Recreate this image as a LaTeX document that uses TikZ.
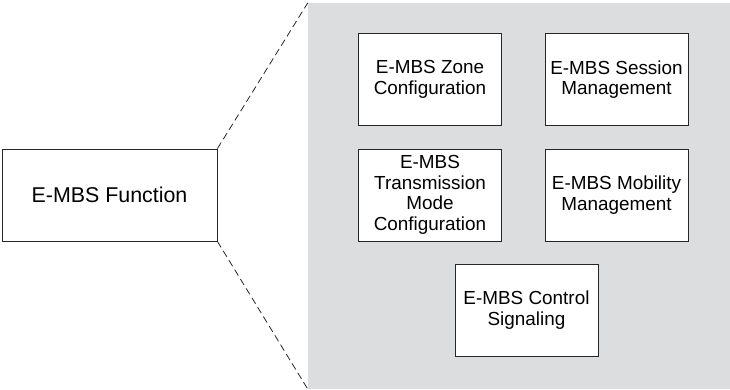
\documentclass[tikz,border=0pt]{standalone}
\usepackage{fontspec}
\setmainfont{Liberation Sans}
\usepackage{tikz}
\usetikzlibrary{positioning}
\definecolor{panelgray}{RGB}{220,221,223}

\begin{document}
\begin{tikzpicture}[
    x=1pt, y=-1pt,
    box/.style={draw=black!85, line width=0.9pt, fill=white, minimum width=143pt, minimum height=92pt, align=center, inner sep=2pt, font=\fontsize{18.9}{20.7}\selectfont},
    zoomline/.style={dashed, line width=0.8pt, black!85, dash pattern=on 7pt off 4pt}
]
    \useasboundingbox (0,0) rectangle (730,389);

    % Grey panel with the sub-functions
    \node[fill=panelgray, inner sep=0pt, minimum width=422pt, minimum height=386pt] (panel) at (519,196) {};

    % Main function
    \node[box, minimum width=215pt, font=\fontsize{21.4}{24}\selectfont] (func) at (109.5,195) {E-MBS Function};

    % Zoom lines
    \draw[zoomline] (func.north east) -- (panel.north west);
    \draw[zoomline] (func.south east) -- (panel.south west);

    % Sub-function boxes
    \node[box] (zone) at (430,79.5) {E-MBS Zone\\Configuration};
    \node[box] (session) at (616.5,79.5) {E-MBS Session\\Management};
    \node[box] (trans) at (430,195) {E-MBS\\Transmission\\Mode\\Configuration};
    \node[box] (mobility) at (616.5,195) {E-MBS Mobility\\Management};
    \node[box] (control) at (526.5,310) {E-MBS Control\\Signaling};
\end{tikzpicture}
\end{document}
